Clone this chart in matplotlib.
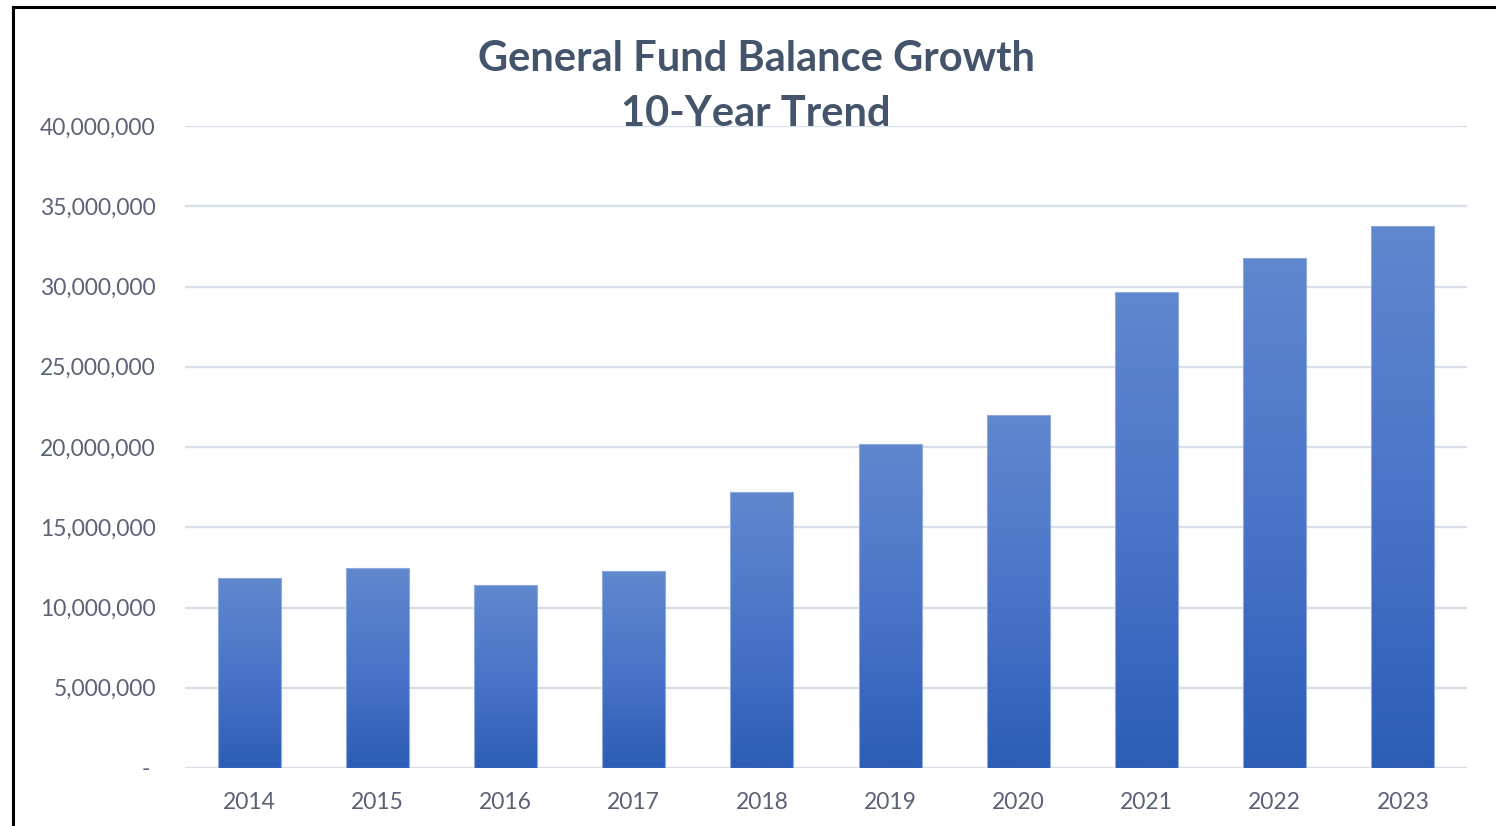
import matplotlib
matplotlib.use("Agg")
import matplotlib.pyplot as plt
import numpy as np
from matplotlib.colors import LinearSegmentedColormap
from matplotlib.lines import Line2D
from matplotlib.ticker import FuncFormatter

years = ["2014", "2015", "2016", "2017", "2018", "2019", "2020", "2021", "2022", "2023"]
balances = [11850000, 12450000, 11400000, 12270000, 17200000, 20200000, 22000000, 29650000, 31800000, 33750000]
yticks = [0, 5000000, 10000000, 15000000, 20000000, 25000000, 30000000, 35000000, 40000000]
title_lines = ["General Fund Balance Growth", "10-Year Trend"]

plt.rcParams['font.family'] = ['Lato', 'DejaVu Sans']

W, H = 1496, 826
fig = plt.figure(figsize=(W / 100, H / 100), dpi=100)
ax = fig.add_axes([185 / W, 1 - 768 / H, (1467 - 185) / W, (768 - 126) / H])

x = np.arange(len(years))
bars = ax.bar(x, balances, width=0.49, color='none', edgecolor='#8FAADC', linewidth=0.8, zorder=3)

cmap = LinearSegmentedColormap.from_list('g', ['#2D5DB6', '#4A74C8', '#6088CE'])
grad = np.linspace(0, 1, 256).reshape(-1, 1)
for b in bars:
    x0, y0 = b.get_x(), b.get_y()
    w, h = b.get_width(), b.get_height()
    im = ax.imshow(grad, cmap=cmap, aspect='auto', origin='lower',
                   extent=[x0, x0 + w, y0, y0 + h], zorder=2)
    im.set_clip_path(b)

ax.set_xlim(-0.5, len(years) - 0.5)
ax.set_ylim(0, 40000000)
ax.set_xticks(x)
ax.set_xticklabels(years)
ax.set_yticks(yticks)
ax.yaxis.set_major_formatter(FuncFormatter(lambda v, p: "- " if v == 0 else f"{int(v):,}"))
ax.grid(axis='y', color='#D9DFEA', linewidth=1.7, zorder=0)
ax.set_axisbelow(True)
for s in ax.spines.values():
    s.set_visible(False)
ax.tick_params(axis='both', length=0, colors='#5A6275', labelsize=16.5)
ax.tick_params(axis='y', pad=21)
ax.tick_params(axis='x', pad=17)

fig.text(756 / W, 1 - 59 / H, title_lines[0], ha='center', va='center',
         fontsize=30, fontweight='bold', color='#44546A')
fig.text(756 / W, 1 - 114 / H, title_lines[1], ha='center', va='center',
         fontsize=30, fontweight='bold', color='#44546A')

fig.add_artist(Line2D([13 / W, 13 / W], [0, 1 - 7 / H], color='black', linewidth=2.2))
fig.add_artist(Line2D([13 / W, 1], [1 - 7 / H, 1 - 7 / H], color='black', linewidth=2.2))

fig.savefig("out.png", dpi=100)
